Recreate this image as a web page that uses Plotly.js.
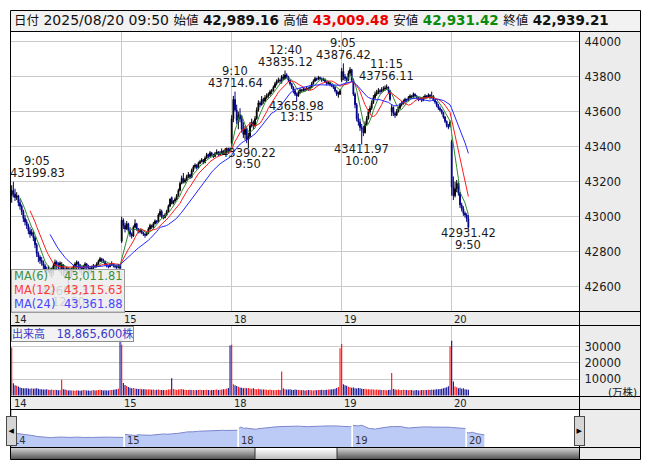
<!DOCTYPE html>
<html><head><meta charset="utf-8">
<script src="https://cdn.plot.ly/plotly-3.0.1.min.js"></script>
<style>html,body{margin:0;padding:0;background:#fff;}#chart{width:653px;height:470px;}</style>
</head><body><div id="chart"></div>
<script>
// ---- data: 5-minute bars, 14,15,18,19,20 Aug 2025 (66 bars per full day) ----
const dayLabels = ['14','15','18','19','20'];
const barsPerDay = 66;
const morningBars = 30;
const headerDate = '2025/08/20 09:50';
const volumeText = '18,865,600';

const open = [
43120,43150,43130,43110,43120,43080,43060,43030,42990,42970,
42950,42920,42900,42910,42880,42840,42790,42770,42750,42740,
42720,42700,42690,42700,42680,42700,42720,42740,42730,42720,
42700,42725,42700,42690,42705,42700,42690,42700,42715,42730,
42740,42725,42710,42700,42715,42730,42720,42705,42700,42710,
42720,42715,42730,42745,42760,42750,42745,42730,42720,42715,
42725,42730,42720,42715,42710,42720,
42860,42980,42950,42930,42960,42920,42900,42890,42940,42960,
42930,42915,42920,42910,42900,42895,42905,42930,42950,42940,
42960,42975,42970,43010,43030,43000,42995,43010,43030,43060,
43110,43075,43090,43100,43120,43150,43190,43220,43200,43210,
43230,43240,43225,43265,43285,43295,43280,43305,43315,43325,
43310,43335,43355,43345,43365,43355,43345,43360,43370,43355,
43365,43375,43360,43370,43390,43385,
43420,43560,43670,43610,43550,43580,43560,43500,43470,43500,
43440,43460,43520,43540,43520,43560,43610,43650,43640,43670,
43660,43680,43690,43700,43715,43720,43740,43760,43775,43780,
43775,43800,43790,43810,43800,43780,43760,43740,43720,43700,
43690,43710,43725,43720,43730,43725,43735,43730,43740,43760,
43775,43790,43785,43795,43790,43780,43785,43770,43760,43765,
43755,43750,43740,43720,43700,43700,
43780,43830,43800,43790,43780,43820,43840,43780,43700,43640,
43560,43540,43510,43500,43480,43530,43560,43600,43620,43650,
43680,43700,43710,43720,43715,43725,43730,43735,43740,43720,
43600,43625,43590,43580,43600,43620,43640,43650,43660,43670,
43665,43680,43690,43685,43700,43690,43680,43670,43675,43665,
43680,43690,43685,43695,43680,43690,43665,43655,43635,43620,
43610,43595,43570,43545,43520,43520,
43430,43170,43120,43160,43190,43136.70,43067.49,43045,43020,43010,42989.16];

const high = [
43180,43199.83,43160,43140,43125,43100,43070,43040,43010,42985,
42960,42940,42930,42920,42890,42850,42800,42780,42770,42750,
42730,42715,42720,42705,42710,42735,42755,42750,42740,42745,
42740,42730,42710,42715,42710,42705,42710,42725,42740,42750,
42745,42730,42715,42725,42740,42735,42725,42710,42720,42730,
42725,42740,42755,42770,42765,42760,42750,42735,42725,42735,
42745,42735,42725,42720,42730,42725,
43000,42990,42965,42975,42965,42930,42910,42950,42985,42965,
42935,42930,42925,42915,42905,42915,42940,42960,42955,42970,
42985,42980,43020,43045,43040,43010,43020,43040,43070,43105,
43115,43095,43110,43130,43160,43200,43235,43250,43220,43240,
43255,43245,43275,43295,43305,43300,43315,43325,43335,43330,
43345,43365,43360,43375,43370,43360,43370,43385,43375,43375,
43390,43380,43380,43395,43395,43395,
43580,43690,43714.64,43640,43600,43620,43580,43540,43520,43510,
43480,43540,43560,43550,43575,43625,43665,43660,43690,43680,
43695,43705,43710,43725,43730,43750,43770,43785,43795,43790,
43810,43815,43835.12,43820,43805,43785,43765,43745,43730,43710,
43720,43735,43730,43740,43735,43745,43740,43750,43770,43785,
43800,43795,43805,43800,43795,43795,43790,43775,43775,43770,
43760,43755,43745,43725,43715,43730,
43850,43876.42,43815,43800,43835,43855,43845,43790,43710,43650,
43590,43560,43530,43520,43545,43575,43615,43635,43665,43695,
43715,43725,43735,43730,43740,43745,43750,43756.11,43745,43725,
43640,43630,43600,43615,43630,43650,43660,43670,43680,43675,
43690,43700,43695,43710,43705,43695,43685,43685,43680,43690,
43700,43695,43705,43700,43715,43695,43670,43660,43645,43630,
43615,43600,43575,43550,43530,43550,
43440,43230,43200,43210,43200,43140,43080,43060,43030,43020,43009.48];

const low = [
43080,43110,43090,43095,43060,43040,43010,42970,42950,42930,
42900,42880,42890,42860,42820,42770,42740,42730,42720,42700,
42680,42670,42680,42660,42650,42665,42690,42700,42690,42680,
42665,42660,42645,42650,42603.37,42640,42655,42670,42690,42700,
42700,42680,42665,42670,42690,42695,42680,42670,42675,42690,
42705,42710,42725,42740,42740,42735,42720,42710,42705,42710,
42720,42710,42705,42700,42705,42695,
42850,42930,42910,42925,42905,42885,42875,42885,42935,42920,
42905,42905,42900,42890,42880,42890,42900,42925,42930,42935,
42955,42960,42965,43000,42990,42985,42990,43005,43025,43055,
43070,43070,43080,43095,43115,43145,43185,43190,43190,43205,
43220,43215,43220,43255,43275,43270,43275,43300,43310,43300,
43305,43330,43335,43340,43345,43335,43340,43355,43345,43350,
43360,43355,43355,43365,43360,43370,
43400,43540,43600,43530,43500,43540,43480,43450,43440,43420,
43390.22,43450,43510,43500,43515,43555,43600,43625,43635,43645,
43655,43670,43680,43690,43700,43715,43735,43750,43765,43760,
43760,43780,43785,43790,43770,43750,43730,43705,43690,43658.98,
43685,43700,43710,43715,43715,43720,43720,43725,43735,43755,
43770,43775,43780,43780,43770,43775,43765,43750,43755,43745,
43740,43730,43710,43690,43680,43695,
43770,43780,43775,43765,43775,43810,43770,43690,43620,43545,
43520,43490,43411.97,43460,43475,43520,43555,43590,43610,43645,
43670,43690,43700,43700,43710,43715,43720,43725,43700,43660,
43575,43575,43565,43575,43595,43615,43630,43640,43650,43655,
43660,43675,43675,43680,43685,43675,43660,43665,43655,43660,
43675,43675,43680,43670,43675,43660,43645,43625,43610,43600,
43585,43560,43535,43510,43500,43510,
43120,43095,43110,43140,43120,43050,43030,43005,42995,42970,42931.42];

const close = [
43150,43130,43110,43120,43080,43060,43030,42990,42970,42950,
42920,42900,42910,42880,42840,42790,42770,42750,42740,42720,
42700,42690,42700,42680,42700,42720,42740,42730,42720,42735,
42725,42700,42690,42705,42700,42690,42700,42715,42730,42740,
42725,42710,42700,42715,42730,42720,42705,42700,42710,42720,
42715,42730,42745,42760,42750,42745,42730,42720,42715,42725,
42730,42720,42715,42710,42720,42705,
42980,42950,42930,42960,42920,42900,42890,42940,42960,42930,
42915,42920,42910,42900,42895,42905,42930,42950,42940,42960,
42975,42970,43010,43030,43000,42995,43010,43030,43060,43100,
43075,43090,43100,43120,43150,43190,43220,43200,43210,43230,
43240,43225,43265,43285,43295,43280,43305,43315,43325,43310,
43335,43355,43345,43365,43355,43345,43360,43370,43355,43365,
43375,43360,43370,43390,43365,43375,
43560,43670,43610,43550,43580,43560,43500,43470,43500,43440,
43460,43520,43540,43520,43560,43610,43650,43640,43670,43660,
43680,43690,43700,43715,43720,43740,43760,43775,43780,43775,
43800,43790,43810,43800,43780,43760,43740,43720,43700,43690,
43710,43725,43720,43730,43725,43735,43730,43740,43760,43775,
43790,43785,43795,43790,43780,43785,43770,43760,43765,43755,
43750,43740,43720,43700,43710,43720,
43830,43800,43790,43780,43820,43840,43780,43700,43640,43560,
43540,43510,43500,43480,43530,43560,43600,43620,43650,43680,
43700,43710,43720,43715,43725,43730,43735,43740,43720,43670,
43625,43590,43580,43600,43620,43640,43650,43660,43670,43665,
43680,43690,43685,43700,43690,43680,43670,43675,43665,43680,
43690,43685,43695,43680,43690,43665,43655,43635,43620,43610,
43595,43570,43545,43520,43512.56,43540,
43170,43120,43160,43190,43136.70,43067.49,43045,43020,43010,42989.16,42939.21];

const volume = [
29400,7500,6200,6000,5500,4900,4600,4500,4400,4500,
4300,4200,4400,4100,4300,4500,4200,3900,3800,3700,
3600,3900,3500,3400,3600,3300,3500,3300,3200,3400,
9600,3900,3600,3300,3100,3200,3000,3100,2900,3200,
3000,2900,3100,3400,3200,3000,3100,2900,3000,3300,
3100,3200,3400,3500,3300,3100,3200,3000,3100,3300,
3400,3500,3600,3800,4200,34700,
31000,7600,6400,5800,5200,4700,4500,4600,4300,4100,
4000,4200,3900,3800,3900,3700,3600,3800,3500,3600,
3400,3500,3600,3300,3400,3300,3200,3300,3600,3800,
10600,4000,3700,3500,3600,3800,4000,3700,3500,3400,
3300,3500,3400,3300,3200,3400,3300,3500,3400,3300,
3400,3500,3300,3200,3400,3300,3500,3600,3400,3500,
3700,3800,3900,4100,4600,30600,
31000,6900,6300,5800,5400,4900,4700,4500,4800,4400,
4600,4300,4200,4400,4000,3900,4100,3800,3700,3600,
3700,3500,3400,3600,3300,3400,3200,3300,3500,3400,
14700,4300,3900,3700,3600,3800,3500,3400,3600,3500,
3300,3400,3200,3300,3100,3200,3300,3400,3200,3100,
3300,3200,3400,3300,3500,3400,3300,3500,3600,3700,
3800,3900,4200,4600,5200,29000,
31600,6900,6200,5900,5300,5000,4700,4900,4500,4300,
4600,4400,4200,4000,4100,3900,3800,3700,3900,3600,
3500,3700,3400,3500,3300,3400,3300,3200,3400,3500,
13700,4000,3700,3500,3600,3400,3300,3500,3400,3300,
3200,3400,3300,3100,3200,3300,3100,3200,3300,3400,
3300,3400,3500,3400,3600,3500,3700,3800,3900,4000,
4200,4400,4700,5000,5600,30000,
33500,8600,5500,5100,4500,4800,4200,4400,3900,3700,3500];

// bars whose extreme is labelled on the chart
const markedHighs = [1, 134, 164, 199, 225];
const markedLows = [34, 142, 171, 210, 274];
const maPeriods = [6, 12, 24];
const maColors = ['#2c8a2c', '#ff1a1a', '#2626ff'];
const maTextColors = ['#3f8f3f', '#ff3a3a', '#4646ff'];

// ---- helpers ----
const W = 653, H = 470;
const px = x => x / W, py = y => 1 - y / H;
const FONT = 'DejaVu Sans, Noto Sans CJK JP, sans-serif';
const n = close.length;
const idx = close.map((_, i) => i);
const fmt = v => v.toLocaleString('en-US', {minimumFractionDigits: 2, maximumFractionDigits: 2});
function timeLabel(i) {
  const k = i % barsPerDay;
  const m = k < morningBars ? 540 + 5 * k : 750 + 5 * (k - morningBars);
  return Math.floor(m / 60) + ':' + String(m % 60).padStart(2, '0');
}
function sma(p) {
  const xs = [], ys = [];
  for (let i = p - 1; i < n; i++) {
    let s = 0; for (let j = i - p + 1; j <= i; j++) s += close[j];
    xs.push(i); ys.push(s / p);
  }
  return {xs, ys};
}
const dayStarts = dayLabels.map((_, d) => d * barsPerDay);

// ---- traces ----
const traces = [];
traces.push({
  type: 'candlestick', x: idx, open: open, high: high, low: low, close: close,
  xaxis: 'x', yaxis: 'y', hoverinfo: 'skip', showlegend: false,
  increasing: {line: {color: '#000000', width: 1}, fillcolor: '#000000'},
  decreasing: {line: {color: '#000088', width: 1}, fillcolor: '#000088'}
});
const maLast = [];
maPeriods.forEach((p, k) => {
  const m = sma(p);
  maLast.push(m.ys[m.ys.length - 1]);
  traces.push({type: 'scatter', mode: 'lines', x: m.xs, y: m.ys, xaxis: 'x', yaxis: 'y',
    line: {color: maColors[k], width: 1}, hoverinfo: 'skip', showlegend: false});
});
traces.push({
  type: 'bar', x: idx, y: volume, xaxis: 'x2', yaxis: 'y2', width: 0.62,
  marker: {color: idx.map(i => close[i] >= open[i] ? '#ff0000' : '#00008b'), line: {width: 0}},
  hoverinfo: 'skip', showlegend: false
});
dayStarts.forEach(s => {
  const e = Math.min(s + barsPerDay, n);
  traces.push({type: 'scatter', mode: 'lines', x: idx.slice(s, e), y: close.slice(s, e),
    xaxis: 'x3', yaxis: 'y3', fill: 'tozeroy', fillcolor: '#bccaf6',
    line: {color: '#7c86cc', width: 1}, hoverinfo: 'skip', showlegend: false});
});

// ---- shapes ----
const shapes = [];
function rect(x0, y0, x1, y1, fill, line, lw, layer) {
  return {type: 'rect', xref: 'paper', yref: 'paper', x0: px(x0), x1: px(x1), y0: py(y1), y1: py(y0),
    fillcolor: fill || 'rgba(0,0,0,0)', line: {color: line || 'rgba(0,0,0,0)', width: lw || 0}, layer: layer || 'below'};
}
function line(x0, y0, x1, y1, color, layer) {
  return {type: 'line', xref: 'paper', yref: 'paper', x0: px(x0), x1: px(x1), y0: py(y0), y1: py(y1),
    line: {color: color, width: 1}, layer: layer || 'above'};
}
const PANEL = '#ececec';
shapes.push(rect(10, 10, 641, 31.5, '#f2f2f2'));
shapes.push(rect(579.5, 31.5, 641, 311.5, PANEL));
shapes.push(rect(10, 311.5, 641, 325.5, PANEL));
shapes.push(rect(579.5, 325.5, 641, 396.5, PANEL));
shapes.push(rect(10, 396.5, 641, 409.5, PANEL));
shapes.push(rect(579.5, 409.5, 641, 460, PANEL));
// scrollbar
for (let r = 0; r < 12; r++) {
  const t = r / 11, g = Math.round(205 - t * 125), g2 = Math.round(255 - t * 70);
  shapes.push(rect(11, 448 + r, 579.5, 449 + r, `rgb(${g},${g},${g})`, null, 0, 'above'));
  shapes.push(rect(255, 448 + r, 337, 449 + r, `rgb(${g2},${g2},${g2})`, null, 0, 'above'));
}
shapes.push(rect(255, 447.5, 337, 459.5, null, '#333333', 1, 'above'));
// cyan range markers in navigator
shapes.push(line(11, 409.5, 11, 447.5, '#22a6d9'));
shapes.push(line(579.5, 409.5, 579.5, 447.5, '#22a6d9'));
// frame lines
shapes.push(rect(10.5, 10.5, 640.5, 459.5, null, '#000000', 1, 'above'));
[31.5, 311.5, 325.5, 396.5, 409.5, 447.5].forEach(y => shapes.push(line(10, y, 641, y, '#000000')));
shapes.push(line(579.5, 31.5, 579.5, 459.5, '#000000'));

// ---- annotations ----
const ann = [];
const o = open[n - 1], h = high[n - 1], l = low[n - 1], c = close[n - 1];
const jp = t => `<span style="font-size:12.5px">${t}</span>`;
const bv = (t, col) => `<b><span style="font-size:13.5px${col ? ';color:' + col : ''}">${t}</span></b>`;
ann.push({xref: 'paper', yref: 'paper', x: px(12), y: py(20.5), xanchor: 'left', yanchor: 'middle', showarrow: false,
  font: {family: FONT, size: 14, color: '#111111'},
  text: `${jp('日付')} ${headerDate} ${jp('始値')} ${bv(fmt(o))} ${jp('高値')} ${bv(fmt(h), '#ee0000')} ${jp('安値')} ${bv(fmt(l), '#0a8a0a')} ${jp('終値')} ${bv(fmt(c))}`});
// date labels in strips and navigator
dayLabels.forEach((d, k) => {
  [[319, 'x'], [403.5, 'x']].forEach(([yy, xr]) => ann.push({xref: xr, yref: 'paper', x: dayStarts[k], y: py(yy),
    xanchor: 'left', yanchor: 'middle', xshift: 0, showarrow: false, text: d, font: {family: FONT, size: 10, color: '#222'}}));
  ann.push({xref: 'x3', yref: 'paper', x: dayStarts[k], y: py(440), xanchor: 'left', yanchor: 'middle', xshift: 0,
    showarrow: false, text: d, font: {family: FONT, size: 10, color: '#333'}});
});
const labelFont = {family: FONT, size: 11.5, color: '#1a1a1a'};
function extremeLabel(i, isHigh, xs) {
  const v = isHigh ? high[i] : low[i];
  const lines = isHigh ? [[fmt(v).replace(/,/g, ''), 8.3], [timeLabel(i), 20.7]] : [[fmt(v).replace(/,/g, ''), -4.6], [timeLabel(i), -16]];
  lines.forEach(([t, ys]) => ann.push({xref: 'x', yref: 'y', x: i, y: v, xanchor: 'center', yanchor: 'middle',
    xshift: xs || 0, yshift: ys, showarrow: false, text: t, font: labelFont}));
}
markedLows.forEach(i => extremeLabel(i, false));
markedHighs.forEach((i, k) => extremeLabel(i, true, k === 0 ? 24 : 0));
// MA legend box (drawn after labels so it veils them)
ann.push({xref: 'paper', yref: 'paper', x: px(10.5), y: py(269), xanchor: 'left', yanchor: 'top', showarrow: false,
  text: '\u00a0', width: 112, height: 42, borderpad: 0, bgcolor: 'rgba(236,236,236,0.86)', bordercolor: '#9c9c9c', borderwidth: 1});
maPeriods.forEach((p, k) => {
  const yy = 276 + k * 14;
  ann.push({xref: 'paper', yref: 'paper', x: px(11.5), y: py(yy), xanchor: 'left', yanchor: 'middle', showarrow: false,
    text: `MA(${p})`, font: {family: FONT, size: 11.5, color: maTextColors[k]}});
  ann.push({xref: 'paper', yref: 'paper', x: px(124.5), y: py(yy), xanchor: 'right', yanchor: 'middle', showarrow: false,
    text: fmt(maLast[k]), font: {family: FONT, size: 11.5, color: maTextColors[k]}});
});
// volume label
ann.push({xref: 'paper', yref: 'paper', x: px(10.5), y: py(325.5), xanchor: 'left', yanchor: 'top', showarrow: false,
  text: `<span style="font-size:11px">出来高</span>\u3000${volumeText}<span style="font-size:11px">株</span>`,
  font: {family: FONT, size: 11.5, color: '#3a3ac8'}, bgcolor: 'rgba(242,242,242,0.9)', bordercolor: '#8c8c8c', borderwidth: 1, borderpad: 0});
ann.push({xref: 'paper', yref: 'paper', x: px(639), y: py(391.5), xanchor: 'right', yanchor: 'middle', showarrow: false,
  text: '(万株)', font: {family: FONT, size: 10.5, color: '#222'}});
// navigator handles
[[11, '◀'], [579.5, '▶']].forEach(([xx, t]) => ann.push({xref: 'paper', yref: 'paper', x: px(xx), y: py(431),
  xanchor: 'center', yanchor: 'middle', showarrow: false, text: t, width: 9, height: 28, borderpad: 0,
  font: {family: FONT, size: 7, color: '#000'}, bgcolor: '#d6d6d6', bordercolor: '#4a4a4a', borderwidth: 1}));

// ---- layout ----
const priceTicks = [42600, 42800, 43000, 43200, 43400, 43600, 43800, 44000];
const volTicks = [10000, 20000, 30000];
const xDom = [px(11), px(579.5)];
const xRange = [-0.42, 340.68];
const grid = '#c9c9c9';
const tickFont = {family: FONT, size: 11.5, color: '#1a1a1a'};
const layout = {
  width: W, height: H, margin: {l: 0, r: 0, t: 0, b: 0, pad: 0},
  paper_bgcolor: '#ffffff', plot_bgcolor: 'rgba(0,0,0,0)', showlegend: false, dragmode: false,
  xaxis: {domain: xDom, range: xRange, anchor: 'y', tickmode: 'array', tickvals: dayStarts, showticklabels: false,
    showgrid: true, gridcolor: grid, gridwidth: 1, zeroline: false, showline: false, ticks: '', rangeslider: {visible: false}},
  yaxis: {domain: [py(311.5), py(31.5)], range: [42458.3, 44058.3], anchor: 'x', side: 'right', tickmode: 'array',
    tickvals: priceTicks, ticktext: priceTicks.map(String), tickfont: tickFont, ticks: '', ticklabelstandoff: 4,
    showgrid: true, gridcolor: grid, gridwidth: 1, zeroline: false, showline: false},
  xaxis2: {domain: xDom, range: xRange, anchor: 'y2', tickmode: 'array', tickvals: dayStarts, showticklabels: false,
    showgrid: true, gridcolor: grid, gridwidth: 1, zeroline: false, showline: false, ticks: ''},
  yaxis2: {domain: [py(396.5), py(325.5)], range: [-612, 42857], anchor: 'x2', side: 'right', tickmode: 'array',
    tickvals: volTicks, ticktext: volTicks.map(String), tickfont: tickFont, ticks: '', ticklabelstandoff: 4,
    showgrid: true, gridcolor: grid, gridwidth: 1, zeroline: false, showline: false},
  xaxis3: {domain: [px(11), px(579.5)], range: [0, 329.1], anchor: 'y3', visible: false, showgrid: false, zeroline: false},
  yaxis3: {domain: [py(447.5), py(409.5)], range: [41756, 45322], anchor: 'x3', visible: false, showgrid: false, zeroline: false},
  shapes: shapes, annotations: ann
};
Plotly.newPlot('chart', traces, layout, {staticPlot: true, displayModeBar: false});
</script></body></html>
